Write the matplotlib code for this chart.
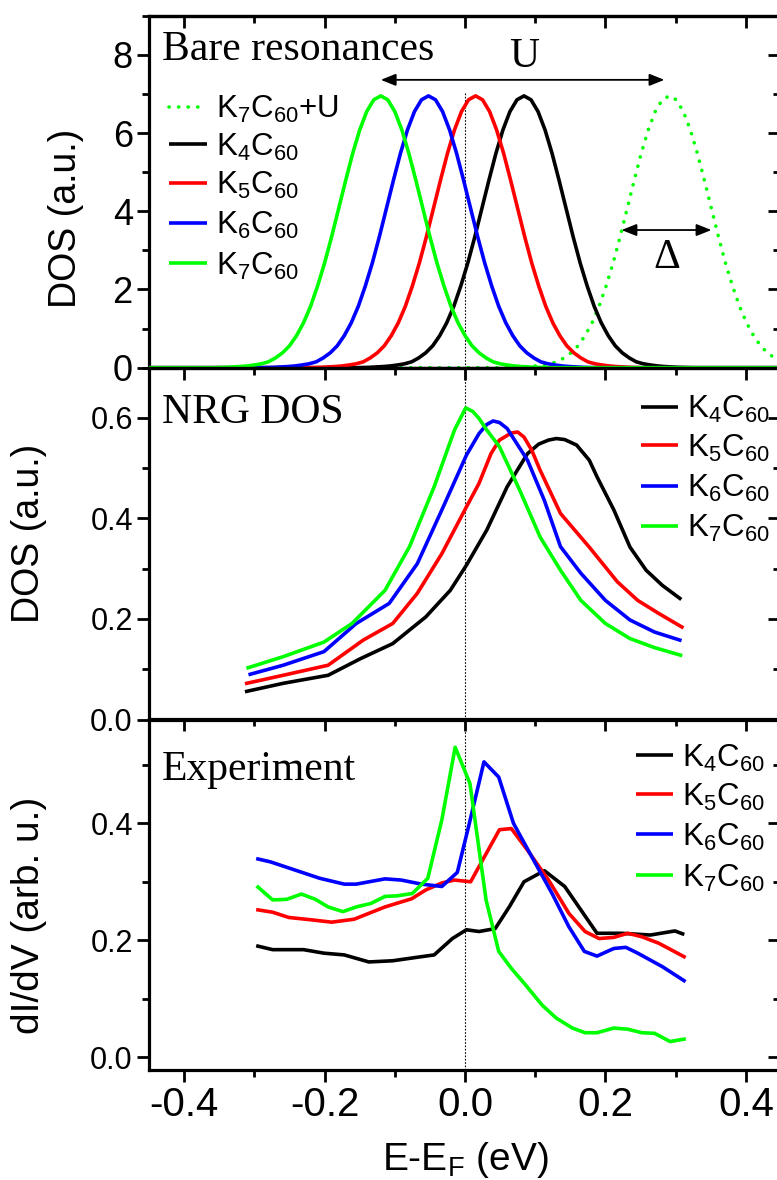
import matplotlib
matplotlib.use('Agg')
import matplotlib.pyplot as plt
from matplotlib.ticker import MultipleLocator, FormatStrFormatter

plt.rcParams['font.family'] = ['Liberation Sans', 'DejaVu Sans']
plt.rcParams['mathtext.fontset'] = 'custom'
plt.rcParams['mathtext.rm'] = 'Liberation Sans'
plt.rcParams['mathtext.it'] = 'Liberation Sans:italic'
plt.rcParams['mathtext.bf'] = 'Liberation Sans:bold'

# ---------------- data ----------------
labels = ['K$_4$C$_{60}$', 'K$_5$C$_{60}$', 'K$_6$C$_{60}$', 'K$_7$C$_{60}$']
colors = ['#000000', '#ff0000', '#0000ff', '#00ff00']

# Bare resonances: common peak profile (offset from centre, DOS) and centres
bare_offset = [-0.9, -0.24, -0.22, -0.20, -0.19, -0.18, -0.17, -0.16, -0.15, -0.14, -0.13,
               -0.12, -0.11, -0.10, -0.09, -0.08, -0.07, -0.06, -0.05, -0.04, -0.03, -0.02,
               -0.01, 0.0, 0.01, 0.02, 0.03, 0.04, 0.05, 0.06, 0.07, 0.08, 0.09, 0.10, 0.11,
               0.12, 0.13, 0.14, 0.15, 0.16, 0.17, 0.18, 0.19, 0.20, 0.22, 0.24, 0.9]
bare_dos = [0.0, 0.0, 0.01, 0.03, 0.045, 0.07, 0.10, 0.15, 0.25, 0.38, 0.56,
            0.82, 1.15, 1.57, 2.09, 2.68, 3.35, 4.07, 4.79, 5.48, 6.08, 6.55,
            6.85, 6.95, 6.85, 6.55, 6.08, 5.48, 4.79, 4.07, 3.35, 2.68, 2.09, 1.57, 1.15,
            0.82, 0.56, 0.38, 0.25, 0.15, 0.10, 0.07, 0.045, 0.03, 0.01, 0.0, 0.0]
bare_centres = [0.084, 0.015, -0.052, -0.120]   # K4, K5, K6, K7
bare_centre_k7_u = 0.291

# NRG DOS
nrg_x = [
    [-0.311, -0.259, -0.195, -0.149, -0.103, -0.056, -0.021, 0.002, 0.031, 0.060, 0.089,
     0.105, 0.119, 0.130, 0.142, 0.159, 0.177, 0.188, 0.212, 0.235, 0.258, 0.281, 0.306],
    [-0.311, -0.259, -0.195, -0.145, -0.103, -0.068, -0.033, 0.002, 0.020, 0.037, 0.049,
     0.066, 0.075, 0.084, 0.095, 0.107, 0.136, 0.177, 0.217, 0.246, 0.276, 0.309],
    [-0.306, -0.259, -0.201, -0.155, -0.108, -0.068, -0.033, 0.002, 0.020, 0.031, 0.040,
     0.049, 0.060, 0.089, 0.113, 0.136, 0.165, 0.200, 0.235, 0.270, 0.306],
    [-0.309, -0.259, -0.201, -0.161, -0.114, -0.079, -0.044, -0.015, 0.001, 0.011, 0.020,
     0.031, 0.049, 0.078, 0.107, 0.136, 0.165, 0.200, 0.235, 0.270, 0.307],
]
nrg_y = [
    [0.056, 0.072, 0.088, 0.121, 0.151, 0.204, 0.257, 0.307, 0.377, 0.463, 0.529,
     0.548, 0.556, 0.559, 0.557, 0.546, 0.516, 0.483, 0.417, 0.343, 0.297, 0.267, 0.241],
    [0.072, 0.088, 0.108, 0.158, 0.191, 0.251, 0.330, 0.423, 0.470, 0.529, 0.556,
     0.570, 0.572, 0.562, 0.536, 0.496, 0.410, 0.343, 0.274, 0.237, 0.211, 0.184],
    [0.090, 0.108, 0.135, 0.191, 0.231, 0.310, 0.417, 0.526, 0.569, 0.587, 0.594,
     0.591, 0.579, 0.516, 0.436, 0.344, 0.291, 0.237, 0.198, 0.174, 0.158],
    [0.103, 0.125, 0.154, 0.191, 0.257, 0.344, 0.463, 0.576, 0.620, 0.613, 0.599,
     0.576, 0.543, 0.456, 0.363, 0.297, 0.237, 0.191, 0.161, 0.143, 0.128],
]

# Experiment dI/dV
exp_x = [
    [-0.295, -0.274, -0.230, -0.201, -0.172, -0.137, -0.103, -0.068, -0.044, -0.018, 0.002,
     0.020, 0.043, 0.063, 0.084, 0.113, 0.142, 0.165, 0.188, 0.223, 0.264, 0.299, 0.310],
    [-0.295, -0.274, -0.251, -0.219, -0.190, -0.158, -0.114, -0.076, -0.056, -0.033, -0.015,
     0.008, 0.025, 0.049, 0.066, 0.089, 0.119, 0.148, 0.171, 0.191, 0.212, 0.232, 0.252,
     0.276, 0.312],
    [-0.295, -0.277, -0.242, -0.207, -0.172, -0.155, -0.114, -0.091, -0.062, -0.033, -0.011,
     0.005, 0.027, 0.048, 0.069, 0.095, 0.124, 0.148, 0.170, 0.188, 0.212, 0.229, 0.246,
     0.281, 0.312],
    [-0.295, -0.274, -0.254, -0.233, -0.213, -0.195, -0.174, -0.155, -0.134, -0.114, -0.097,
     -0.075, -0.053, -0.033, -0.014, 0.007, 0.030, 0.048, 0.066, 0.086, 0.110, 0.130, 0.153,
     0.171, 0.188, 0.212, 0.232, 0.252, 0.270, 0.292, 0.312],
]
exp_y = [
    [0.190, 0.184, 0.184, 0.178, 0.175, 0.163, 0.165, 0.171, 0.175, 0.203, 0.218,
     0.215, 0.220, 0.257, 0.300, 0.319, 0.292, 0.252, 0.212, 0.212, 0.209, 0.216, 0.211],
    [0.252, 0.248, 0.239, 0.235, 0.231, 0.236, 0.257, 0.271, 0.286, 0.298, 0.303,
     0.300, 0.337, 0.389, 0.391, 0.354, 0.303, 0.246, 0.215, 0.203, 0.205, 0.212, 0.206,
     0.195, 0.172],
    [0.339, 0.334, 0.320, 0.306, 0.296, 0.296, 0.305, 0.303, 0.296, 0.292, 0.316,
     0.394, 0.505, 0.479, 0.400, 0.343, 0.280, 0.223, 0.181, 0.173, 0.186, 0.188, 0.178,
     0.155, 0.131],
    [0.291, 0.269, 0.270, 0.279, 0.270, 0.257, 0.249, 0.257, 0.263, 0.275, 0.276,
     0.280, 0.306, 0.406, 0.530, 0.468, 0.269, 0.181, 0.152, 0.124, 0.089, 0.067, 0.050,
     0.042, 0.042, 0.050, 0.048, 0.042, 0.041, 0.027, 0.031],
]

# ---------------- layout ----------------
W, H = 777, 1180
fig = plt.figure(figsize=(W / 100, H / 100), dpi=100)


def fx(px):
    return px / W


def fy(py):
    return 1 - py / H


AX_L, AX_R = 148.7, 780.0
rows = [(15.7, 367.7), (367.7, 719.5), (719.5, 1070.0)]
LW = 2.6
SPW = 2.3
TW = 2.0
MAJ, MIN = 8.4, 4.7

axes = []
for top, bot in rows:
    ax = fig.add_axes([fx(AX_L), fy(bot), (AX_R - AX_L) / W, (bot - top) / H])
    axes.append(ax)

ylims = [(0, 9), (0, 0.70), (-0.0217, 0.5774)]
ymaj = [2, 0.2, 0.2]
ymin = [1, 0.1, 0.1]
ylab_size = [26, 22, 22]

for i, ax in enumerate(axes):
    ax.set_xlim(-0.4506, 0.4487)
    ax.set_ylim(*ylims[i])
    for s in ax.spines.values():
        s.set_linewidth(SPW)
    ax.xaxis.set_major_locator(MultipleLocator(0.2))
    ax.xaxis.set_minor_locator(MultipleLocator(0.1))
    ax.yaxis.set_major_locator(MultipleLocator(ymaj[i]))
    ax.yaxis.set_minor_locator(MultipleLocator(ymin[i]))
    ax.tick_params(which='both', direction='out', width=TW, top=False, right=False)
    ax.tick_params(which='major', length=MAJ)
    ax.tick_params(which='minor', length=MIN)
    ax.tick_params(axis='y', labelsize=ylab_size[i], pad=3)
    ax.tick_params(axis='x', labelsize=29, pad=3)
    if i > 0:
        ax.yaxis.set_major_formatter(FormatStrFormatter('%.1f'))
    else:
        ax.yaxis.set_major_formatter(FormatStrFormatter('%d'))
    if i < 2:
        ax.tick_params(axis='x', labelbottom=False)
    else:
        ax.xaxis.set_major_formatter(FormatStrFormatter('%.1f'))
    # mirrored axes with inward ticks
    sx = ax.secondary_xaxis('top')
    sx.xaxis.set_major_locator(MultipleLocator(0.2))
    sx.xaxis.set_minor_locator(MultipleLocator(0.1))
    sx.tick_params(which='both', direction='in', width=TW, labeltop=False)
    sx.tick_params(which='major', length=MAJ)
    sx.tick_params(which='minor', length=MIN)
    sx.spines['top'].set_linewidth(SPW)
    sy = ax.secondary_yaxis('right')
    sy.yaxis.set_major_locator(MultipleLocator(ymaj[i]))
    sy.yaxis.set_minor_locator(MultipleLocator(ymin[i]))
    sy.tick_params(which='both', direction='in', width=TW, labelright=False)
    sy.tick_params(which='major', length=MAJ)
    sy.tick_params(which='minor', length=MIN)
    sy.spines['right'].set_linewidth(SPW)

ax1, ax2, ax3 = axes

# ---- top panel: bare resonances ----
ax1.plot([0, 0], [0, 7.05], color='k', lw=0.8, ls=(0, (1.5, 1.5)), zorder=1)
ax1.plot([bare_centre_k7_u + o for o in bare_offset], bare_dos, color='#00ff00', lw=LW,
         ls=(0, (0.05, 2.6)), dash_capstyle='round', zorder=2)
for c, col in zip(bare_centres, colors):
    ax1.plot([c + o for o in bare_offset], bare_dos, color=col, lw=LW, zorder=3)

arrow_kw = dict(arrowstyle='<|-|>,head_length=0.45,head_width=0.18', color='k', lw=1.3,
                shrinkA=0, shrinkB=0, mutation_scale=20)
ax1.annotate('', xy=(0.284, 7.36), xytext=(-0.120, 7.36), arrowprops=arrow_kw)
ax1.annotate('', xy=(0.351, 3.52), xytext=(0.223, 3.52), arrowprops=arrow_kw)

serif = 'Liberation Serif'
fig.text(fx(162), fy(60), 'Bare resonances', family=serif, fontsize=30, va='baseline')
fig.text(fx(523.7), fy(67), 'U', family=serif, fontsize=30, va='baseline', ha='center')
fig.text(fx(666.5), fy(268), '\u0394', family=serif, fontsize=30, va='baseline', ha='center')
fig.text(fx(162), fy(423), 'NRG DOS', family=serif, fontsize=30, va='baseline')
fig.text(fx(162), fy(780), 'Experiment', family=serif, fontsize=30, va='baseline')


def legend_rows(entries, hx0, hx1, tx, ys):
    for (lab, col, ls), y in zip(entries, ys):
        ln = plt.Line2D([fx(hx0), fx(hx1)], [fy(y), fy(y)], transform=fig.transFigure,
                        color=col, lw=LW, ls=ls, dash_capstyle='round',
                        solid_capstyle='butt')
        fig.add_artist(ln)
        fig.text(fx(tx), fy(y + 11.5), lab, fontsize=22.5, va='baseline', ha='left')


top_entries = [('K$_7$C$_{60}$+U', '#00ff00', (0, (0.05, 2.6)))] + \
    [(l, c, '-') for l, c in zip(labels, colors)]
legend_rows(top_entries, 168.6, 207.3, 215.5, [106.7, 144.3, 182.7, 222.7, 263.3])

# ---- middle panel: NRG DOS ----
ax2.axvline(0, color='k', lw=0.8, ls=(0, (1.5, 1.5)), zorder=1)
for xs, ys, col in zip(nrg_x, nrg_y, colors):
    ax2.plot(xs, ys, color=col, lw=LW, zorder=3, solid_joinstyle='round')
legend_rows([(l, c, '-') for l, c in zip(labels, colors)], 641.2, 678.0, 687.0,
            [406.7, 445.0, 485.7, 525.7])

# ---- bottom panel: experiment ----
ax3.axvline(0, color='k', lw=0.8, ls=(0, (1.5, 1.5)), zorder=1)
for xs, ys, col in zip(exp_x, exp_y, colors):
    ax3.plot(xs, ys, color=col, lw=LW, zorder=3, solid_joinstyle='round')
legend_rows([(l, c, '-') for l, c in zip(labels, colors)], 636.0, 672.7, 682.0,
            [755.0, 794.3, 834.3, 875.0])

# ---- axis labels ----
fig.text(fx(66), fy(218), 'DOS (a.u.)', rotation=90, ha='center', va='center', fontsize=27)
fig.text(fx(29), fy(533), 'DOS (a.u.)', rotation=90, ha='center', va='center', fontsize=27)
fig.text(fx(29), fy(915), 'dI/dV (arb. u.)', rotation=90, ha='center', va='center', fontsize=28)
fig.text(fx(465), fy(1170), 'E-E$_\\mathrm{F}$ (eV)', ha='center', va='baseline', fontsize=28)

fig.savefig('out.png', dpi=100)
